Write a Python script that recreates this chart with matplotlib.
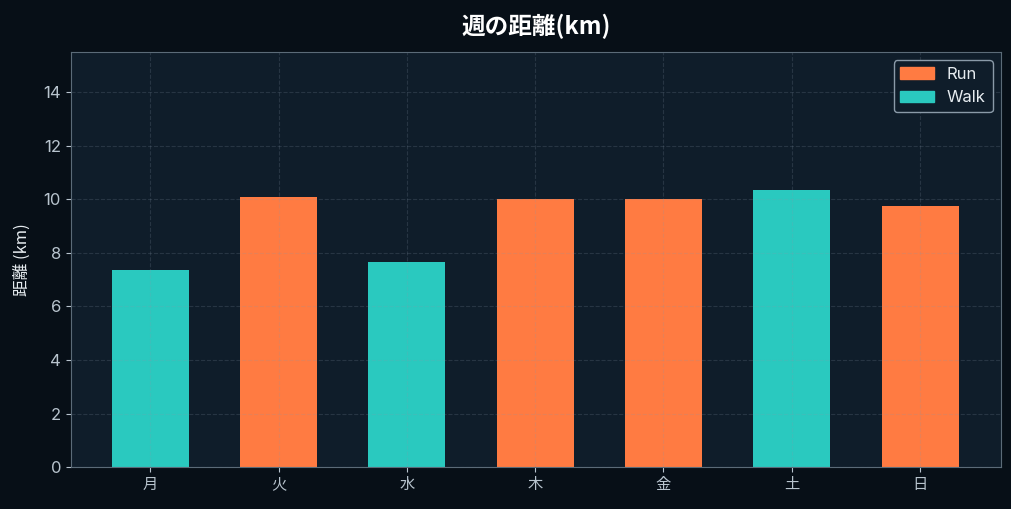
import numpy as np
import matplotlib.pyplot as plt
from matplotlib.patches import Patch

plt.rcParams['font.family'] = ['Inter', 'Noto Sans CJK JP', 'DejaVu Sans']

# データ
days = ['月', '火', '水', '木', '金', '土', '日']
distance = [7.35, 10.07, 7.65, 10.0, 10.0, 10.34, 9.75]
kind = ['Walk', 'Run', 'Walk', 'Run', 'Run', 'Walk', 'Run']

run_color = '#FF7B42'
walk_color = '#2AC9BF'
colors = [run_color if k == 'Run' else walk_color for k in kind]

fig, ax = plt.subplots(figsize=(10.12, 5.09), dpi=100)
fig.patch.set_facecolor('#070F17')
ax.set_facecolor('#0F1D2A')

x = np.arange(len(days))
ax.bar(x, distance, width=0.6, color=colors)

ax.set_xlim(-0.62, 6.63)
ax.set_ylim(0, 15.5)
ax.set_xticks(x)
ax.set_xticklabels(days)
ax.set_yticks(range(0, 15, 2))

# グリッドは棒の上に薄く
ax.grid(True, color='#8899AA', alpha=0.2, linestyle='--', linewidth=0.8)
for s in ax.spines.values():
    s.set_color('#5B6B78')
ax.tick_params(colors='#B8C4CE', labelsize=12)
ax.tick_params(axis='x', labelsize=11)

ax.set_title('週の距離(km)', color='white', fontsize=17, fontweight='bold', pad=13,
             family=['Noto Sans CJK JP'])
ax.set_ylabel('距離 (km)', color='#E6ECF0', fontsize=12, labelpad=9,
              family=['Noto Sans CJK JP'])

handles = [Patch(color=run_color, label='Run'), Patch(color=walk_color, label='Walk')]
leg = ax.legend(handles=handles, loc='upper right', facecolor='#0F1D2A',
                edgecolor='#8A9AA8', labelcolor='#E6ECF0', fontsize=12)
leg.get_frame().set_alpha(1)

plt.subplots_adjust(left=0.07, right=0.989, top=0.898, bottom=0.082)
plt.savefig('out.png', facecolor=fig.get_facecolor())
